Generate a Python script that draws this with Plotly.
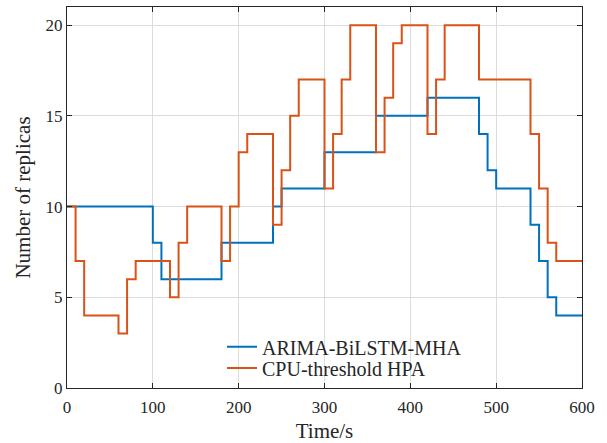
import plotly.graph_objects as go

# Data (step functions: value holds from time t[i] until t[i+1])
arima_t = [0, 100, 110, 180, 240, 250, 300, 360, 420, 480, 490, 500, 540, 550, 560, 570, 600]
arima_v = [10, 8, 6, 8, 10, 11, 13, 15, 16, 14, 12, 11, 9, 7, 5, 4, 4]

hpa_t = [0, 10, 20, 60, 70, 80, 120, 130, 140, 180, 190, 200, 210, 240, 250, 260, 270,
         300, 310, 320, 330, 360, 370, 380, 390, 420, 430, 440, 480, 540, 550, 560, 570, 600]
hpa_v = [10, 7, 4, 3, 6, 7, 5, 8, 10, 7, 10, 13, 14, 9, 12, 15, 17,
         11, 14, 17, 20, 13, 16, 19, 20, 14, 17, 20, 17, 14, 11, 8, 7, 7]

x_ticks = [0, 100, 200, 300, 400, 500, 600]
y_ticks = [0, 5, 10, 15, 20]

FONT = "Liberation Serif, Times New Roman, serif"
AXC = "#262626"

fig = go.Figure()
fig.add_trace(go.Scatter(x=arima_t, y=arima_v, mode="lines", line_shape="hv",
                         name="ARIMA-BiLSTM-MHA", line=dict(color="#0072BD", width=2),
                         legend="legend", showlegend=True))
fig.add_trace(go.Scatter(x=hpa_t, y=hpa_v, mode="lines", line_shape="hv",
                         name="CPU-threshold HPA", line=dict(color="#D95319", width=2),
                         legend="legend2", showlegend=True))

axis_common = dict(showline=True, linecolor=AXC, linewidth=1, mirror="ticks",
                   ticks="inside", ticklen=5, tickcolor=AXC, showgrid=True,
                   gridcolor="#DCDCDC", gridwidth=1, zeroline=False, automargin=False,
                   tickfont=dict(family=FONT, size=17, color=AXC))

fig.update_xaxes(range=[0, 600], tickvals=x_ticks, ticktext=[str(v) for v in x_ticks],
                 ticklabelstandoff=4,
                 title=dict(text="Time/s", font=dict(family=FONT, size=21, color=AXC), standoff=10),
                 **axis_common)
fig.update_yaxes(range=[0, 21], tickvals=y_ticks, ticktext=[str(v) for v in y_ticks],
                 title=dict(text="Number of replicas", font=dict(family=FONT, size=21, color=AXC), standoff=9),
                 **axis_common)

leg_common = dict(x=0.301, xanchor="left", yanchor="middle", visible=True,
                  bgcolor="rgba(0,0,0,0)", borderwidth=0,
                  font=dict(family=FONT, size=20, color=AXC))

fig.update_layout(
    width=607, height=443,
    margin=dict(l=67, r=25, t=7, b=55),
    paper_bgcolor="white", plot_bgcolor="white",
    font=dict(family=FONT, color=AXC),
    showlegend=True,
    legend=dict(y=0.1084, **leg_common),
    legend2=dict(y=0.0525, **leg_common),
)

fig.write_html("out.html")
